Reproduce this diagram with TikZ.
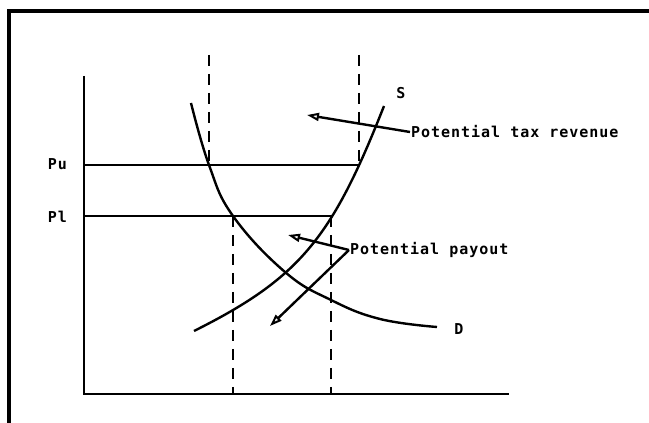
\documentclass[tikz,border=0pt]{standalone}
\usepackage{fontspec}
\usepackage{tikz}
\usetikzlibrary{arrows.meta, positioning}
\newfontfamily\plotfont[LetterSpace=6.5]{DejaVu Sans Mono}
\tikzset{
    econframe/.style={draw=black, line width=3.4pt},
    econaxis/.style={draw=black, line width=2pt},
    econcurve/.style={draw=black, line width=2.4pt},
    econguide/.style={draw=black, line width=1.8pt},
    econdash/.style={draw=black, line width=1.9pt, dash pattern=on 11pt off 8pt},
    econarrow/.style={-{Triangle[open, length=12pt, width=8pt, line width=2pt]}, line width=2.4pt},
    econlabel/.style={font=\plotfont\bfseries\fontsize{15}{15}\selectfont, inner sep=1pt}
}

\begin{document}
\begin{tikzpicture}[x=1pt, y=1pt]

\useasboundingbox (0,0) rectangle (649,423);
\fill[white] (0,0) rectangle (649,423);
\draw[econframe] (9,-20) -- (9,412) -- (680,412);

\coordinate (o) at (84,29);
\coordinate (ytop) at (84,347);
\coordinate (xend) at (509,29);
\draw[econaxis] (ytop) -- (o) -- (xend);

\coordinate (pu0) at (84,258);
\coordinate (pu1) at (359,258);
\coordinate (pl0) at (84,207);
\coordinate (pl1) at (332,207);
\draw[econguide] (pu0) -- (pu1);
\draw[econguide] (pl0) -- (pl1);

\node[econlabel, anchor=east] (pu) at (68,259) {Pu};
\node[econlabel, anchor=east] (pl) at (68,206) {Pl};

\draw[econdash] (209,368) -- (209,258);
\draw[econdash] (359,368) -- (359,258);
\draw[econdash] (233,207) -- (233,29);
\draw[econdash] (331,207) -- (331,29);

\draw[econcurve] plot[smooth, tension=0.7] coordinates {(191,320) (209,258) (233,207) (285,151) (331,123) (380,104) (437,96)};
\draw[econcurve] (194,92) .. controls (300,145) and (332,185) .. (384,317);

\node[econlabel] (slbl) at (401,330) {S};
\node[econlabel] (dlbl) at (459,94) {D};

\node[econlabel, anchor=west] (taxlbl) at (410,291) {Potential tax revenue};
\node[econlabel, anchor=west] (paylbl) at (349,173) {Potential payout};

\coordinate (taxtip) at (307,308);
\coordinate (paytipA) at (288,188);
\coordinate (paytipB) at (270,97);
\draw[econarrow] (taxlbl.west) -- (taxtip);
\draw[econarrow] (paylbl.west) -- (paytipA);
\draw[econarrow] (paylbl.west) -- (paytipB);

\end{tikzpicture}
\end{document}
